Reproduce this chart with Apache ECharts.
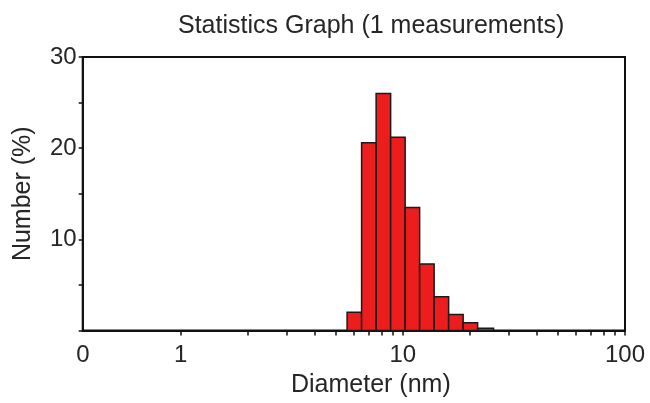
<!DOCTYPE html>
<html>
<head>
<meta charset="utf-8">
<script src="https://cdn.jsdelivr.net/npm/echarts@6/dist/echarts.min.js"></script>
<style>html,body{margin:0;padding:0;background:#fff}#c{width:650px;height:403px}</style>
</head>
<body>
<div id="c"></div>
<script>
// Histogram bins (diameter, nm) and number (%)
const binStart = [5.61, 6.52, 7.58, 8.81, 10.24, 11.90, 13.83, 16.07, 18.68, 21.71];
const binEnd   = [6.52, 7.58, 8.81, 10.24, 11.90, 13.83, 16.07, 18.68, 21.71, 25.6];
const numberPct = [2.0, 20.6, 26.0, 21.2, 13.5, 7.3, 3.7, 1.75, 0.85, 0.25];
const xLabelValues = [0.3625, 1, 10, 100];
const xLabelTexts = ['0', '1', '10', '100'];
const xTickValues = [1, 2, 3, 4, 5, 6, 7, 8, 9, 10, 20, 30, 40, 50, 60, 70, 80, 90, 100];
const yTickLabels = [10, 20, 30];

const data = binStart.map((s, i) => [s, binEnd[i], numberPct[i]]);
const FONT = "'Liberation Sans', Arial, sans-serif";

const chart = echarts.init(document.getElementById('c'), null, {renderer: 'canvas'});
chart.setOption({
  animation: false,
  backgroundColor: '#fff',
  title: {
    text: 'Statistics Graph (1 measurements)',
    left: 173, top: 9,
    textStyle: {fontFamily: FONT, fontSize: 25, fontWeight: 'normal', color: '#262626'}
  },
  grid: {
    left: 82.7, right: 25, top: 57, bottom: 72.5,
    containLabel: false, outerBoundsMode: 'none',
    show: true, borderColor: '#111', borderWidth: 2, backgroundColor: 'transparent'
  },
  xAxis: {
    type: 'log', logBase: 10, min: 0.362, max: 100,
    name: 'Diameter (nm)', nameLocation: 'middle', nameGap: 40,
    nameTextStyle: {fontFamily: FONT, fontSize: 25, color: '#262626', padding: [0, 0, 0, 34]},
    axisLine: {show: true, lineStyle: {color: '#111', width: 2}},
    splitLine: {show: false}, minorTick: {show: false},
    axisTick: {show: true, inside: false, length: 5, customValues: xTickValues, lineStyle: {color: '#111', width: 1.5}},
    axisLabel: {
      show: true, margin: 13, customValues: xLabelValues, hideOverlap: false,
      fontFamily: FONT, fontSize: 24, color: '#262626',
      formatter: function (v) {
        let best = 0, bd = Infinity;
        xLabelValues.forEach((lv, i) => { const d = Math.abs(Math.log10(lv) - Math.log10(v)); if (d < bd) { bd = d; best = i; } });
        return xLabelTexts[best];
      }
    }
  },
  yAxis: {
    type: 'value', min: 0, max: 30, interval: 5,
    name: 'Number (%)', nameLocation: 'middle', nameGap: 47,
    nameTextStyle: {fontFamily: FONT, fontSize: 25, color: '#262626'},
    axisLine: {show: true, lineStyle: {color: '#111', width: 2}},
    splitLine: {show: false},
    axisTick: {show: true, inside: false, length: 4, lineStyle: {color: '#111', width: 1.5}},
    axisLabel: {
      show: true, margin: 6, fontFamily: FONT, fontSize: 24, color: '#262626',
      formatter: v => (yTickLabels.indexOf(v) >= 0 ? String(v) : '')
    }
  },
  series: [{
    type: 'custom',
    encode: {x: [0, 1], y: 2},
    data: data,
    renderItem: function (params, api) {
      const p0 = api.coord([api.value(0), 0]);
      const p1 = api.coord([api.value(1), api.value(2)]);
      return {
        type: 'rect',
        shape: {x: p0[0], y: p1[1], width: p1[0] - p0[0], height: p0[1] - p1[1]},
        style: {fill: '#ee1d1d', stroke: '#1a1a1a', lineWidth: 1.5}
      };
    }
  }]
});
</script>
</body>
</html>
